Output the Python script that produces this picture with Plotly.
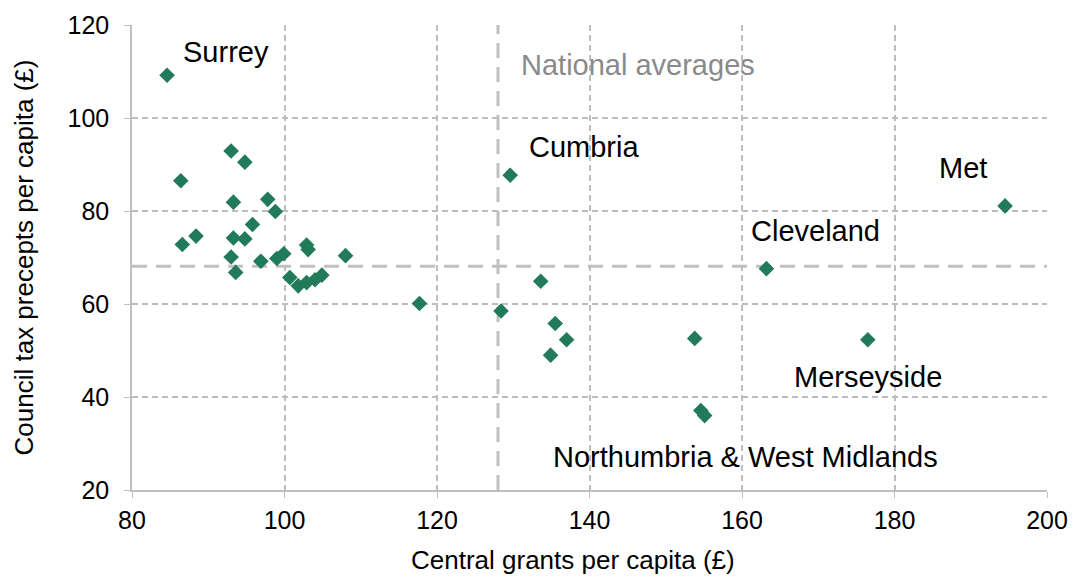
import plotly.graph_objects as go

# Central grants per capita (£) and council tax precepts per capita (£), by police force area
grants = [84.6, 86.4, 86.6, 88.4, 93.0, 94.8, 93.3, 97.8, 98.8, 95.8,
          93.3, 94.8, 93.0, 93.6, 96.9, 99.0, 99.9, 100.7, 101.8, 102.9,
          103.1, 108.0, 102.9, 104.0, 104.9, 117.7, 129.6, 128.4, 133.6, 135.5,
          137.0, 134.9, 153.8, 154.6, 155.1, 194.5, 163.2, 176.5]
precepts = [109.2, 86.5, 72.8, 74.6, 92.9, 90.5, 81.9, 82.5, 79.9, 77.1,
            74.2, 74.0, 70.1, 66.8, 69.2, 69.8, 70.8, 65.7, 63.9, 72.7,
            71.7, 70.4, 64.6, 65.2, 66.2, 60.1, 87.7, 58.5, 64.9, 55.8,
            52.3, 49.0, 52.6, 37.1, 36.0, 81.1, 67.6, 52.3]

national_avg_grants = 128.0
national_avg_precepts = 68.1

label_text = ["Surrey", "National averages", "Cumbria", "Met", "Cleveland",
              "Merseyside", "Northumbria & West Midlands"]
label_x = [92.3, 146.4, 139.3, 189.0, 169.6, 176.5, 160.4]
label_y = [114.1, 111.5, 93.7, 89.2, 75.8, 44.2, 27.2]
label_color = ["#000000", "#8a8a8a", "#000000", "#000000", "#000000",
               "#000000", "#000000"]

x_title = "Central grants per capita (£)"
y_title = "Council tax precepts per capita (£)"

x_range = [80, 200]
y_range = [20, 120]
x_ticks = [80, 100, 120, 140, 160, 180, 200]
y_ticks = [20, 40, 60, 80, 100, 120]

FONT = "Arial, Liberation Sans, sans-serif"
GRID = "#bdbdbd"
AXIS = "#bfbfbf"

fig = go.Figure()
fig.add_trace(go.Scatter(
    x=grants, y=precepts, mode="markers",
    marker=dict(symbol="diamond", size=12, color="#217a59", line=dict(width=0)),
    hoverinfo="skip", showlegend=False, cliponaxis=False,
))

fig.add_shape(type="line", x0=national_avg_grants, x1=national_avg_grants,
              y0=y_range[0], y1=y_range[1], xref="x", yref="y", layer="below",
              line=dict(color="#c0c0c0", width=3, dash="15px,9px"))
fig.add_shape(type="line", x0=x_range[0], x1=x_range[1],
              y0=national_avg_precepts, y1=national_avg_precepts, xref="x", yref="y",
              layer="below", line=dict(color="#c0c0c0", width=3, dash="15px,9px"))

for t, lx, ly, c in zip(label_text, label_x, label_y, label_color):
    fig.add_annotation(x=lx, y=ly, text=t, showarrow=False, xanchor="center",
                       yanchor="middle", font=dict(family=FONT, size=29, color=c))

# x-axis title (sits slightly left of the plot centre in the original)
fig.add_annotation(x=0.482, y=-0.1505, xref="paper", yref="paper", text=x_title,
                   showarrow=False, xanchor="center", yanchor="middle",
                   font=dict(family=FONT, size=26, color="#000000"))

fig.update_layout(
    width=1074, height=577,
    margin=dict(l=132, r=27, t=25, b=87),
    paper_bgcolor="white", plot_bgcolor="white",
    font=dict(family=FONT, size=25, color="#000000"),
    showlegend=False,
)
fig.update_xaxes(
    range=x_range, tickvals=x_ticks, showgrid=True, gridcolor=GRID, gridwidth=1.5,
    griddash="6px,4px", showline=True, linecolor=AXIS, linewidth=1.5,
    ticks="outside", ticklen=6, tickcolor=AXIS, zeroline=False, automargin=False,
    ticklabelstandoff=1,
    tickfont=dict(family=FONT, size=25, color="#000000"),
)
fig.update_yaxes(
    range=y_range, tickvals=y_ticks, showgrid=True, gridcolor=GRID, gridwidth=1.5,
    griddash="6px,4px", showline=True, linecolor=AXIS, linewidth=1.5,
    ticks="outside", ticklen=6, tickcolor=AXIS, zeroline=False, automargin=False,
    ticklabelstandoff=10,
    tickfont=dict(family=FONT, size=25, color="#000000"),
    title=dict(text=y_title, standoff=26,
               font=dict(family=FONT, size=26, color="#000000")),
)

fig.write_html("out.html", config={"displayModeBar": False, "responsive": False},
               post_script="document.body.style.margin='0';document.body.style.overflow='hidden';")
